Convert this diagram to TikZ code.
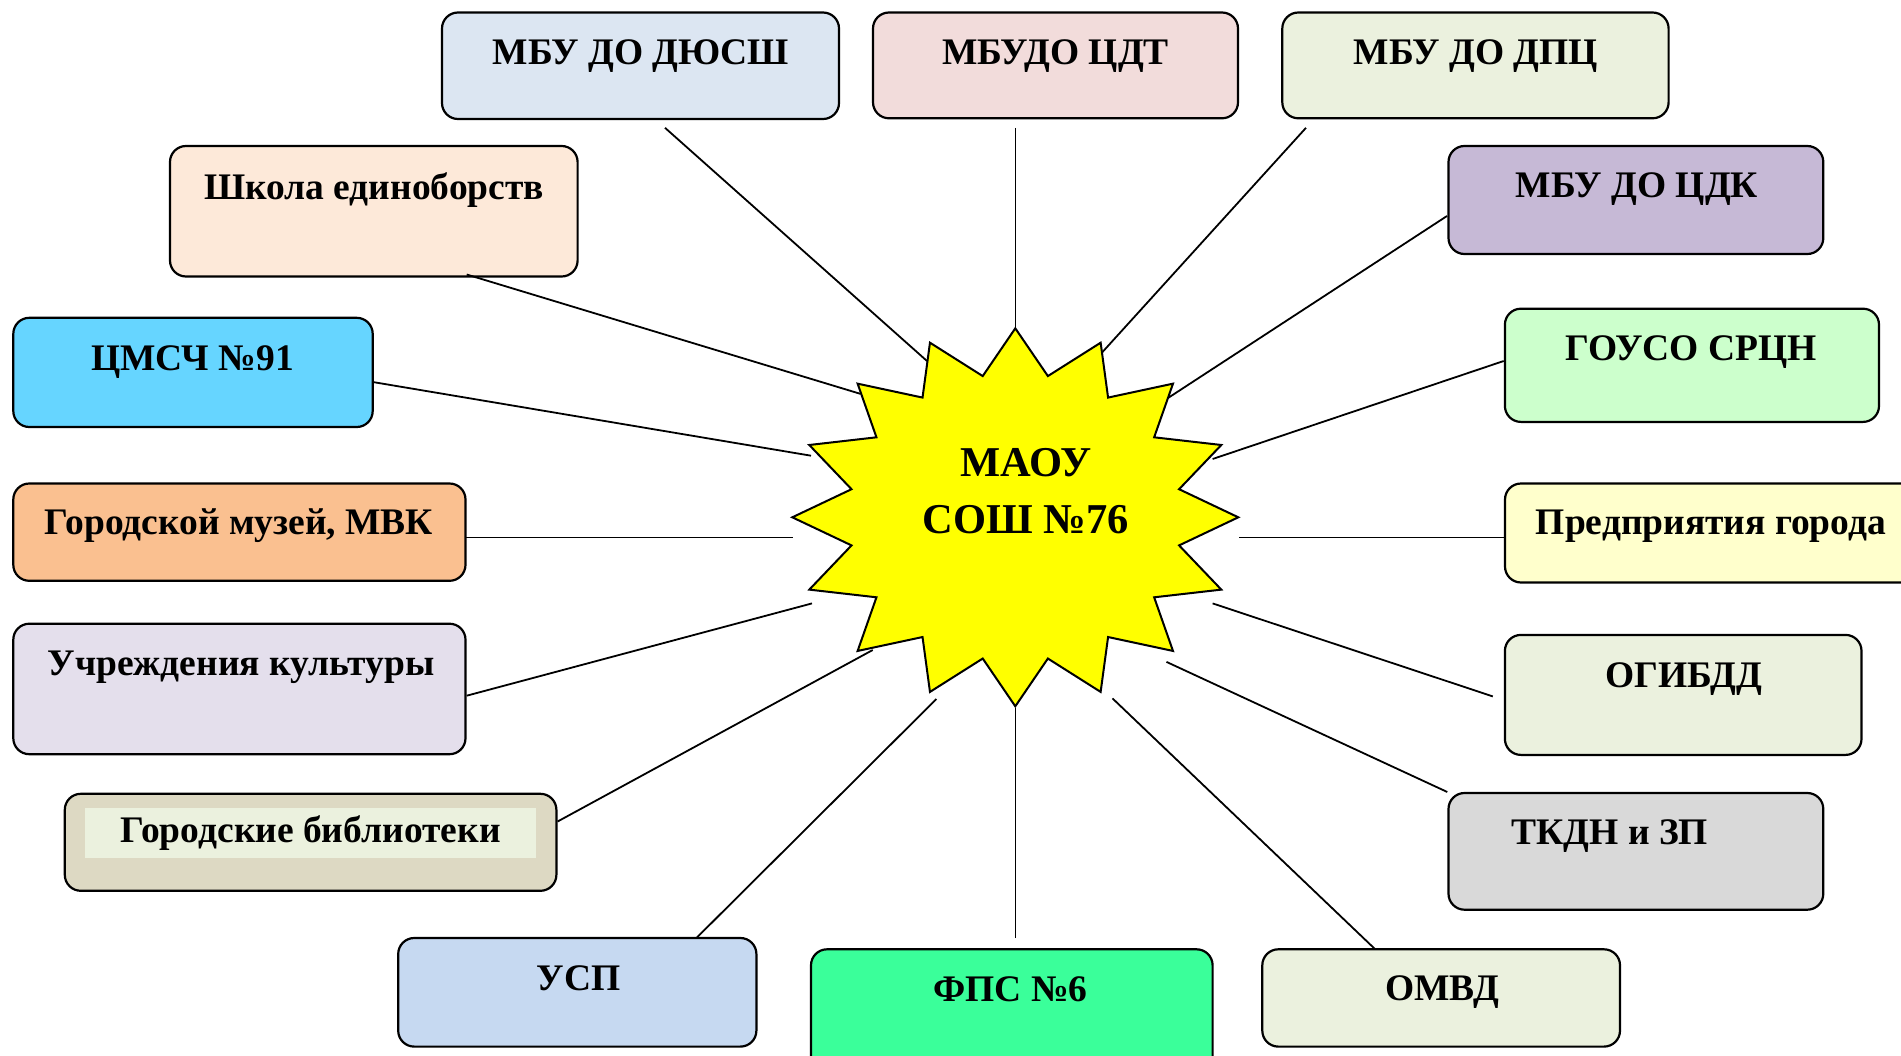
\documentclass[tikz,border=0pt]{standalone}
\usepackage{fontspec}
\setmainfont{Liberation Serif}
\usetikzlibrary{fit}
\definecolor{cDyu}{HTML}{DCE6F2}
\definecolor{cCdt}{HTML}{F2DCDB}
\definecolor{cOlive}{HTML}{EBF1DE}
\definecolor{cShk}{HTML}{FDE9D9}
\definecolor{cCdk}{HTML}{C6B9D6}
\definecolor{cMsch}{HTML}{66D5FF}
\definecolor{cGou}{HTML}{CCFFCC}
\definecolor{cMus}{HTML}{FAC090}
\definecolor{cPred}{HTML}{FFFFCC}
\definecolor{cUchr}{HTML}{E4DFEC}
\definecolor{cBib}{HTML}{DDD9C3}
\definecolor{cTkdn}{HTML}{D9D9D9}
\definecolor{cUsp}{HTML}{C6D9F1}
\definecolor{cFps}{HTML}{3AFF9A}
\definecolor{cStar}{HTML}{FFFF00}
\begin{document}
\begin{tikzpicture}[x=1pt,y=-1pt,
  box/.style={rectangle,draw=black,line width=2.2pt,rounded corners=16pt,inner sep=0pt,outer sep=0pt},
  lbl/.style={font=\fontsize{37.5}{42}\selectfont\bfseries,inner sep=0pt,anchor=base},
  link/.style={draw=black,line width=1.8pt}]
\useasboundingbox (0,0) rectangle (1901,1055);
\clip (0,0) rectangle (1901,1055);
\fill[white] (0,0) rectangle (1901,1055);

% boxes
\node[box,fill=cDyu,fit={(442,12.5)(839,119)}] (dyu) {};
\node[box,fill=cCdt,fit={(873,12.5)(1238,118.3)}] (cdt) {};
\node[box,fill=cOlive,fit={(1282.3,12.5)(1668.6,118.3)}] (dpc) {};
\node[box,fill=cShk,fit={(170,146)(577.6,276.5)}] (shk) {};
\node[box,fill=cCdk,fit={(1448.5,146)(1823.3,254)}] (cdk) {};
\node[box,fill=cMsch,fit={(13.3,317.8)(372.7,427)}] (msch) {};
\node[box,fill=cGou,fit={(1504.9,308.7)(1879,421.9)}] (gou) {};
\node[box,fill=cMus,fit={(13.3,483.5)(465.5,580.8)}] (mus) {};
\node[box,fill=cPred,fit={(1505,483.5)(1930,582.5)}] (pred) {};
\node[box,fill=cUchr,fit={(13.3,623.7)(465.5,754.2)}] (uchr) {};
\node[box,fill=cOlive,fit={(1504.9,634.9)(1861.5,754.9)}] (ogi) {};
\node[box,fill=cBib,fit={(64.8,793.8)(556.4,890.8)}] (bib) {};
\node[rectangle,fill=cOlive,inner sep=0pt,fit={(84.8,808)(536.4,858)}] (bibin) {};
\node[box,fill=cTkdn,fit={(1448.5,793)(1823.3,909.7)}] (tkdn) {};
\node[box,fill=cUsp,fit={(398.2,938)(756.4,1046.6)}] (usp) {};
\node[box,fill=cFps,fit={(811,949.3)(1212.6,1090)}] (fps) {};
\node[box,fill=cOlive,fit={(1262.3,949.3)(1620,1046.6)}] (omvd) {};

% labels
\node[lbl] (dyu-t) at (641,64) {МБУ ДО ДЮСШ};
\node[lbl] (cdt-t) at (1055.5,64) {МБУДО ЦДТ};
\node[lbl] (dpc-t) at (1476,64) {МБУ ДО ДПЦ};
\node[lbl] (shk-t) at (374,199.5) {Школа единоборств};
\node[lbl] (cdk-t) at (1637,197.8) {МБУ ДО ЦДК};
\node[lbl] (msch-t) at (192.6,370) {ЦМСЧ №91};
\node[lbl] (gou-t) at (1691,360) {ГОУСО СРЦН};
\node[lbl] (mus-t) at (239,534) {Городской музей, МВК};
\node[lbl] (pred-t) at (1711,534) {Предприятия города};
\node[lbl] (uchr-t) at (241,675.4) {Учреждения культуры};
\node[lbl] (ogi-t) at (1683.7,687.3) {ОГИБДД};
\node[lbl] (bib-t) at (310.6,842.8) {Городские библиотеки};
\node[lbl] (tkdn-t) at (1609.8,844.5) {ТКДН и ЗП};
\node[lbl] (usp-t) at (578.8,990) {УСП};
\node[lbl] (fps-t) at (1010.5,1001) {ФПС №6};
\node[lbl] (omvd-t) at (1442,1000) {ОМВД};

% star
\coordinate (c) at (1015.3,517.3);
\draw[line width=2pt,fill=cStar,shift={(c)}] (0:223 and 189)
  \foreach \a in {0,22.5,...,337.5}{ -- (\a:223 and 189) -- (\a+11.25:167 and 144)} -- cycle;
\node[font=\fontsize{42.5}{56.6}\selectfont\bfseries,inner sep=0pt,anchor=base,align=center] (school) at (1026,533.3) {МАОУ\\СОШ №76};

% connector ends
\coordinate (e1a) at (665,127.8);   \coordinate (e1b) at (927,361);
\coordinate (e2a) at (1015.5,127.8);\coordinate (e2b) at (1015.5,328);
\coordinate (e3a) at (1306,127.8);  \coordinate (e3b) at (1101.6,353);
\coordinate (e4a) at (466.7,274.5); \coordinate (e4b) at (860.6,393.9);
\coordinate (e5a) at (1447,216);    \coordinate (e5b) at (1168,398);
\coordinate (e6a) at (372.7,382);   \coordinate (e6b) at (811,455.7);
\coordinate (e7a) at (1503.7,361);  \coordinate (e7b) at (1212.6,459);
\coordinate (e8a) at (465.5,537.5); \coordinate (e8b) at (792.7,537.5);
\coordinate (e9a) at (1503.7,537.5);\coordinate (e9b) at (1238.7,537.5);
\coordinate (e10a) at (466.7,695.7);\coordinate (e10b) at (812,603.4);
\coordinate (e11a) at (1492.8,696.4);\coordinate (e11b) at (1212.6,603.4);
\coordinate (e12a) at (557.6,821.5);\coordinate (e12b) at (872.7,650);
\coordinate (e13a) at (1447.3,792); \coordinate (e13b) at (1166.5,661.9);
\coordinate (e14a) at (697,937.4);  \coordinate (e14b) at (936.4,699);
\coordinate (e15a) at (1015.5,938); \coordinate (e15b) at (1015.5,707.6);
\coordinate (e16a) at (1374.5,948.6);\coordinate (e16b) at (1112.5,698.4);
\foreach \i in {1,...,16}{\draw[link] (e\i a) -- (e\i b);}
\end{tikzpicture}
\end{document}
